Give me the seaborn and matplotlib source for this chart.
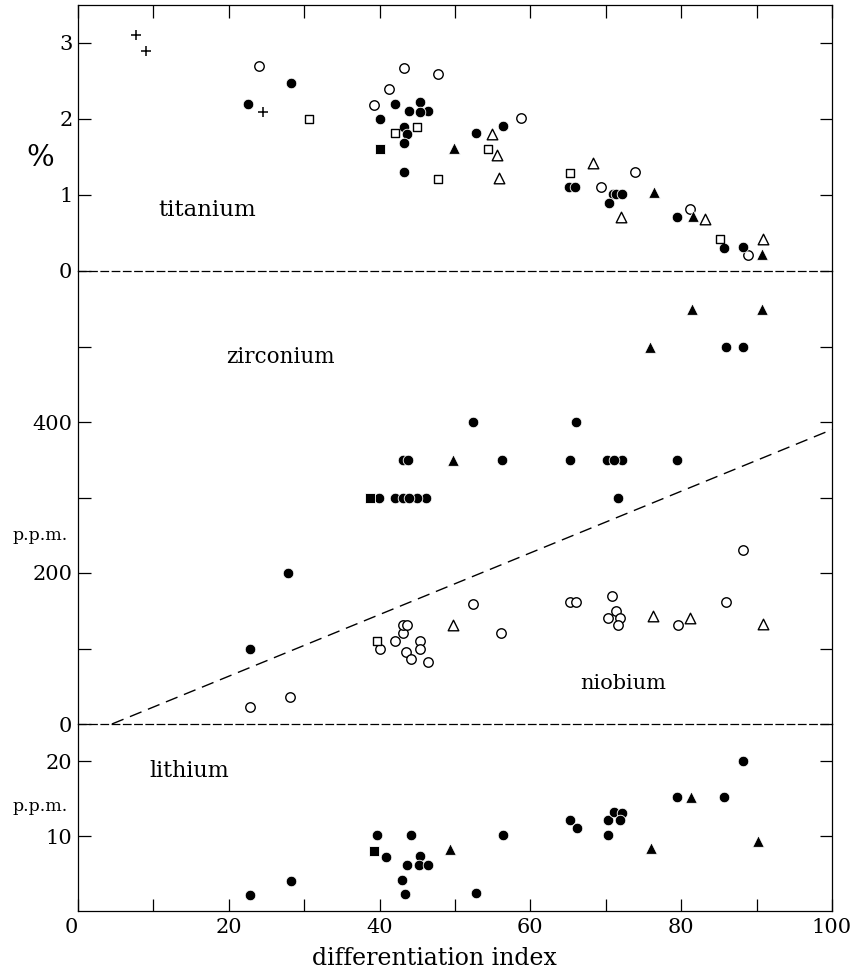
import matplotlib
matplotlib.use("Agg")
import matplotlib.pyplot as plt
import seaborn as sns

# ---------------- data ----------------
# titanium (%)
ti_plus_x = [7.7, 9.0, 24.6]
ti_plus_y = [3.1, 2.9, 2.09]
ti_open_circle_x = [24.0, 43.2, 47.8, 41.2, 39.2, 58.8, 69.4, 73.9, 81.2, 88.9]
ti_open_circle_y = [2.70, 2.67, 2.59, 2.40, 2.19, 2.01, 1.11, 1.30, 0.82, 0.21]
ti_circle_x = [28.2, 22.6, 42.1, 46.4, 45.3, 43.9, 45.3, 40.0, 43.2, 43.7, 43.2, 43.3,
               52.8, 56.3, 65.1, 65.9, 70.9, 71.4, 72.1, 70.4, 79.5, 85.7, 88.2]
ti_circle_y = [2.48, 2.20, 2.20, 2.10, 2.22, 2.10, 2.09, 2.00, 1.90, 1.80, 1.69, 1.30,
               1.82, 1.91, 1.11, 1.11, 1.01, 1.01, 1.01, 0.90, 0.71, 0.30, 0.31]
ti_open_square_x = [30.7, 44.9, 42.1, 47.8, 54.4, 65.3, 85.1]
ti_open_square_y = [2.00, 1.90, 1.81, 1.21, 1.61, 1.29, 0.42]
ti_square_x = [40.1]
ti_square_y = [1.60]
ti_open_tri_x = [54.9, 55.6, 55.8, 68.3, 72.0, 83.2, 90.8]
ti_open_tri_y = [1.80, 1.52, 1.22, 1.42, 0.71, 0.69, 0.42]
ti_tri_x = [49.9, 76.4, 81.5, 90.7]
ti_tri_y = [1.62, 1.04, 0.72, 0.23]

# zirconium (filled, p.p.m.)
zr_circle_x = [22.8, 27.8, 43.1, 43.8, 52.4, 39.9, 42.0, 43.1, 46.2, 45.0, 43.9,
               56.2, 65.3, 66.1, 70.1, 72.1, 71.1, 71.6, 79.4, 85.9, 88.2]
zr_circle_y = [100, 200, 350, 350, 400, 300, 300, 300, 300, 300, 300,
               350, 350, 400, 350, 350, 350, 300, 350, 500, 500]
zr_square_x = [38.7]
zr_square_y = [300]
zr_tri_x = [49.7, 75.9, 81.4, 90.7]
zr_tri_y = [350, 500, 550, 550]

# niobium (open, p.p.m.)
nb_circle_x = [22.8, 28.1, 40.0, 42.1, 43.1, 43.1, 43.7, 43.5, 44.1, 45.3, 45.3, 46.4,
               52.4, 56.1, 65.3, 66.0, 70.8, 71.4, 70.3, 71.9, 71.6, 79.6, 85.9, 88.2]
nb_circle_y = [22, 36, 100, 110, 120, 131, 131, 96, 86, 110, 100, 82,
               159, 120, 161, 161, 170, 150, 141, 141, 131, 131, 162, 230]
nb_square_x = [39.7]
nb_square_y = [110]
nb_tri_x = [49.8, 76.3, 81.2, 90.9]
nb_tri_y = [131, 143, 141, 132]

# dividing line between zirconium and niobium fields
div_x = [4.5, 100]
div_y = [0, 390]

# lithium (p.p.m.)
li_circle_x = [22.8, 28.2, 39.7, 40.8, 44.1, 45.3, 43.7, 45.2, 46.4, 43.0, 43.4, 52.8,
               56.3, 65.3, 66.2, 70.3, 70.3, 71.1, 72.1, 71.9, 79.5, 85.7, 88.2]
li_circle_y = [2.1, 4.0, 10.1, 7.2, 10.1, 7.4, 6.1, 6.1, 6.1, 4.1, 2.3, 2.4,
               10.1, 12.2, 11.1, 10.2, 12.2, 13.3, 13.1, 12.1, 15.2, 15.2, 20.1]
li_square_x = [39.3]
li_square_y = [8.0]
li_tri_x = [49.3, 76.0, 81.3, 90.2]
li_tri_y = [8.3, 8.4, 15.2, 9.3]

x_major = [0, 20, 40, 60, 80, 100]
x_minor = [10, 30, 50, 70, 90]

# ---------------- style ----------------
sns.set_style("ticks")
plt.rcParams["font.family"] = ["DejaVu Serif"]
plt.rcParams["text.color"] = "black"
plt.rcParams["axes.labelcolor"] = "black"
plt.rcParams["xtick.color"] = "black"
plt.rcParams["ytick.color"] = "black"

fig = plt.figure(figsize=(8.58, 9.77), dpi=100)
L, W = 78 / 858, 754 / 858
def rect(top_px, bot_px):
    return [L, 1 - bot_px / 977, W, (bot_px - top_px) / 977]

ax_ti = fig.add_axes(rect(5, 271))
ax_zr = fig.add_axes(rect(271, 724))
ax_li = fig.add_axes(rect(724, 911))

S_C, S_S, S_T, S_P = 58, 34, 58, 60
LW = 1.0

def filled(ax, x, y, m, s):
    sns.scatterplot(x=x, y=y, marker=m, s=s, color="black", edgecolor="white",
                    linewidth=0.6, ax=ax, zorder=4)

def open_(ax, x, y, m, s):
    sns.scatterplot(x=x, y=y, marker=m, s=s, facecolor="white", edgecolor="black",
                    linewidth=LW, ax=ax, zorder=4)

# titanium
sns.scatterplot(x=ti_plus_x, y=ti_plus_y, marker="+", s=S_P, color="black",
                linewidth=1.1, ax=ax_ti, zorder=4)
open_(ax_ti, ti_open_circle_x, ti_open_circle_y, "o", S_C * 0.8)
filled(ax_ti, ti_circle_x, ti_circle_y, "o", S_C)
open_(ax_ti, ti_open_square_x, ti_open_square_y, "s", S_S)
filled(ax_ti, ti_square_x, ti_square_y, "s", S_S + 12)
open_(ax_ti, ti_open_tri_x, ti_open_tri_y, "^", S_T)
filled(ax_ti, ti_tri_x, ti_tri_y, "^", S_T + 12)

# zirconium / niobium
sns.lineplot(x=div_x, y=div_y, color="black", lw=1.0, dashes=(9, 5), ax=ax_zr,
             zorder=2)
filled(ax_zr, zr_circle_x, zr_circle_y, "o", S_C)
filled(ax_zr, zr_square_x, zr_square_y, "s", S_S + 12)
filled(ax_zr, zr_tri_x, zr_tri_y, "^", S_T + 12)
open_(ax_zr, nb_circle_x, nb_circle_y, "o", S_C * 0.8)
open_(ax_zr, nb_square_x, nb_square_y, "s", S_S)
open_(ax_zr, nb_tri_x, nb_tri_y, "^", S_T)

# lithium
filled(ax_li, li_circle_x, li_circle_y, "o", S_C)
filled(ax_li, li_square_x, li_square_y, "s", S_S + 12)
filled(ax_li, li_tri_x, li_tri_y, "^", S_T + 12)

# ---------------- axes ----------------
TICK_FS = 15
for ax in (ax_ti, ax_zr, ax_li):
    ax.patch.set_visible(False)
    ax.set_xlim(0, 100)
    ax.set_xticks(x_major)
    ax.set_xticks(x_minor, minor=True)
    for sp in ax.spines.values():
        sp.set_linewidth(0.9)
        sp.set_color("black")
        sp.set_zorder(5)
    ax.tick_params(which="both", direction="in", length=9, width=0.9,
                   left=True, right=True, labelsize=TICK_FS, colors="black",
                   labelcolor="black", pad=4)
    ax.set_xlabel("")
    ax.set_ylabel("")

ax_ti.set_ylim(0, 3.5)
ax_ti.set_yticks([0, 1, 2, 3])
ax_ti.tick_params(axis="x", which="both", top=True, bottom=False,
                  labeltop=False, labelbottom=False)
ax_ti.spines["bottom"].set_linestyle((0, (6, 3)))

ax_zr.set_ylim(0, 600)
ax_zr.set_yticks([0, 200, 400])
ax_zr.set_yticks([100, 300, 500], minor=True)
ax_zr.tick_params(axis="x", which="both", top=False, bottom=False,
                  labeltop=False, labelbottom=False)
ax_zr.spines["top"].set_visible(False)
ax_zr.spines["bottom"].set_linestyle((0, (6, 3)))

ax_li.set_ylim(0, 25)
ax_li.set_yticks([10, 20])
ax_li.tick_params(axis="x", which="both", top=False, bottom=True,
                  labelbottom=True, pad=5)
ax_li.spines["top"].set_visible(False)
ax_li.set_xticklabels([str(v) for v in x_major])
ax_li.xaxis.get_majorticklabels()[0].set_horizontalalignment("right")
ax_li.set_xlabel("differentiation index", fontsize=17, color="black")
ax_li.xaxis.set_label_coords(0.473, -0.195)

# unit labels
ax_ti.text(-0.05, 1.49, "%", transform=ax_ti.get_yaxis_transform(),
           ha="center", va="center", fontsize=21, color="black")
ax_zr.text(-0.05, 250, "p.p.m.", transform=ax_zr.get_yaxis_transform(),
           ha="center", va="center", fontsize=12.5, color="black")
ax_li.text(-0.05, 14.0, "p.p.m.", transform=ax_li.get_yaxis_transform(),
           ha="center", va="center", fontsize=12.5, color="black")

# element names
ax_ti.text(17.2, 0.80, "titanium", ha="center", va="center", fontsize=16.5,
           color="black")
ax_zr.text(26.8, 486, "zirconium", ha="center", va="center", fontsize=15.5,
           color="black")
ax_zr.text(72.3, 54, "niobium", ha="center", va="center", fontsize=15,
           color="black")
ax_li.text(14.7, 18.7, "lithium", ha="center", va="center", fontsize=16,
           color="black")

fig.savefig("out.png", dpi=100)
